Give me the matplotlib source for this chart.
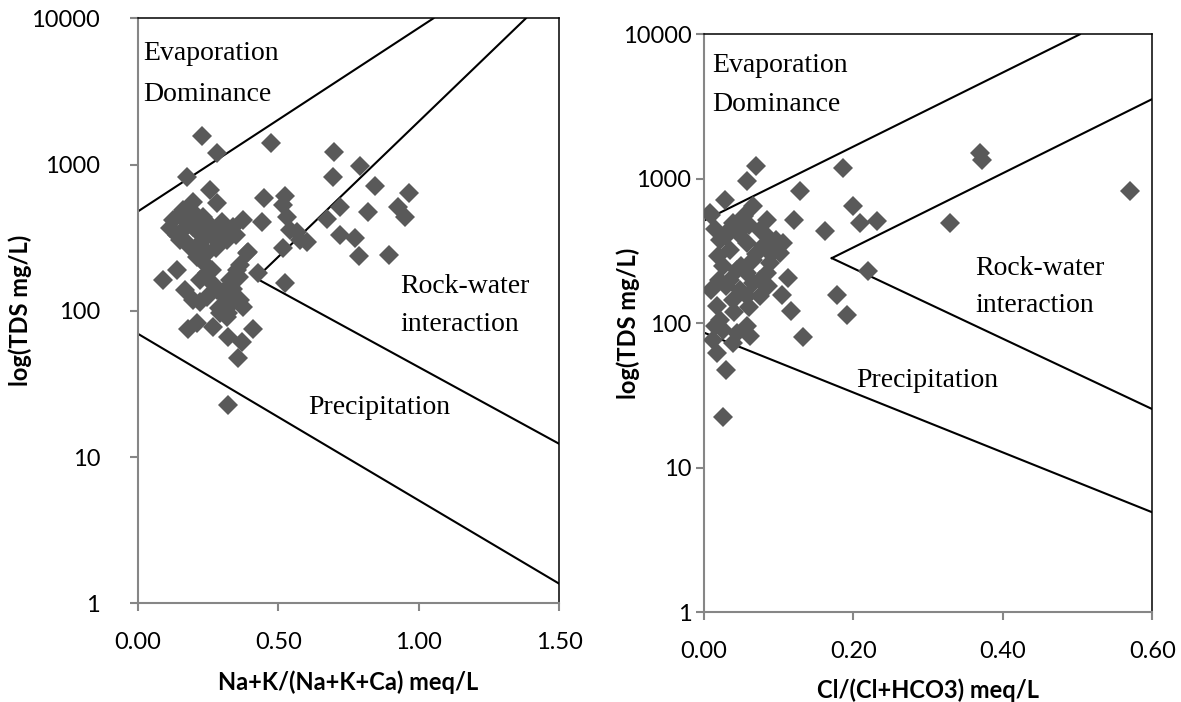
import matplotlib
matplotlib.use("Agg")
import matplotlib.pyplot as plt
from matplotlib.ticker import NullLocator

# Gibbs diagram data
# left panel: Na+K/(Na+K+Ca) vs TDS
left_x = [0.230, 0.283, 0.174, 0.473, 0.700, 0.791, 0.696, 0.844, 0.966, 0.449,
          0.524, 0.720, 0.820, 0.927, 0.951, 0.672, 0.720, 0.773, 0.788, 0.895,
          0.601, 0.566, 0.518, 0.524, 0.429, 0.441, 0.394, 0.364, 0.322, 0.358,
          0.411, 0.370, 0.322, 0.180, 0.212, 0.267, 0.293, 0.322, 0.364, 0.336,
          0.222, 0.246, 0.281, 0.328, 0.322, 0.091, 0.139, 0.168, 0.222, 0.263,
          0.257, 0.283, 0.198, 0.162, 0.127, 0.115, 0.150, 0.186, 0.210, 0.246,
          0.281, 0.317, 0.263, 0.299, 0.340, 0.376, 0.233, 0.198, 0.162, 0.233,
          0.518, 0.530, 0.542, 0.577, 0.186, 0.246, 0.352, 0.388, 0.376, 0.317,
          0.198, 0.328, 0.150, 0.180, 0.210, 0.140, 0.170, 0.200, 0.230, 0.260,
          0.300, 0.350, 0.220, 0.280, 0.240, 0.270, 0.300, 0.340, 0.360, 0.290]
left_tds = [1567, 1194, 818, 1397, 1224, 982, 818, 717, 642, 588,
            612, 510, 471, 510, 436, 425, 330, 313, 237, 241,
            297, 347, 267, 154, 180, 406, 254, 206, 22.7, 47.3,
            74.7, 61.5, 66.5, 74.7, 82.8, 77.8, 96.1, 96.1, 118.5, 113,
            115, 125, 139, 162, 139, 162, 190, 139, 162, 190,
            670, 543, 557, 489, 418, 366, 305, 274, 234, 247,
            339, 305, 376, 406, 376, 418, 440, 376, 356, 305,
            529, 440, 356, 305, 489, 180, 190, 247, 107, 91,
            119, 150, 450, 400, 350, 330, 300, 470, 390, 330,
            350, 330, 280, 270, 210, 150, 130, 140, 170, 105]

# right panel: Cl/(Cl+HCO3) vs TDS
right_x = [0.070, 0.057, 0.186, 0.369, 0.372, 0.129, 0.028, 0.010, 0.066, 0.120,
           0.162, 0.199, 0.209, 0.231, 0.329, 0.220, 0.112, 0.104, 0.116, 0.178,
           0.192, 0.132, 0.030, 0.026, 0.075, 0.570, 0.021, 0.039, 0.053, 0.075,
           0.019, 0.035, 0.057, 0.079, 0.106, 0.102, 0.026, 0.044, 0.066, 0.088,
           0.057, 0.084, 0.010, 0.030, 0.048, 0.066, 0.017, 0.039, 0.057, 0.021,
           0.057, 0.044, 0.026, 0.012, 0.017, 0.039, 0.062, 0.008, 0.030, 0.084,
           0.097, 0.015, 0.030, 0.045, 0.060, 0.080, 0.090, 0.020, 0.035, 0.050,
           0.070, 0.040, 0.060, 0.015, 0.075, 0.085]
right_tds = [1235, 961, 1191, 1512, 1359, 819, 717, 565, 645, 516,
             432, 645, 494, 507, 494, 231, 205, 157, 121, 157,
             114, 80, 47.5, 22.3, 153, 828, 379, 494, 550, 444,
             290, 323, 359, 340, 359, 306, 247, 234, 275, 261,
             223, 223, 171, 180, 171, 190, 131, 145, 153, 106,
             95, 85, 90, 77, 62, 73, 81, 580, 421, 521,
             379, 450, 400, 420, 480, 420, 300, 200, 200, 250,
             300, 120, 130, 95, 200, 180]

# boundary lines (x pairs, TDS pairs)
left_evap_x, left_evap_y = [0.0, 1.052], [477, 10000]
left_rock_up_x, left_rock_up_y = [0.421, 1.381], [167, 10000]
left_rock_lo_x, left_rock_lo_y = [0.421, 1.5], [167, 12.3]
left_prec_x, left_prec_y = [0.0, 1.5], [69.8, 1.36]

right_evap_x, right_evap_y = [0.0, 0.503], [513, 10000]
right_rock_up_x, right_rock_up_y = [0.171, 0.6], [282, 3565]
right_rock_lo_x, right_rock_lo_y = [0.171, 0.6], [282, 25.4]
right_prec_x, right_prec_y = [0.0, 0.6], [86, 4.9]

yticks = [1, 10, 100, 1000, 10000]
ytick_labels = ["1", "10", "100", "1000", "10000"]
left_xticks = [0.0, 0.5, 1.0, 1.5]
left_xtick_labels = ["0.00", "0.50", "1.00", "1.50"]
right_xticks = [0.0, 0.2, 0.4, 0.6]
right_xtick_labels = ["0.00", "0.20", "0.40", "0.60"]

marker_color = "#595959"
axis_gray = "#868686"
tick_font = "Lato"
serif = "Liberation Serif"

fig = plt.figure(figsize=(11.81, 7.02), dpi=100)
ax1 = fig.add_axes([0.1166, 0.1406, 0.3570, 0.8333])
ax2 = fig.add_axes([0.5961, 0.1282, 0.3796, 0.8229])


def style_axes(ax, xmax, xticks, xlabels, xlabel, ylab_x, ypad):
    ax.set_yscale("log")
    ax.set_ylim(1, 10000)
    ax.set_xlim(0, xmax)
    ax.set_yticks(yticks)
    ax.set_yticklabels(ytick_labels)
    ax.yaxis.set_minor_locator(NullLocator())
    ax.set_xticks(xticks)
    ax.set_xticklabels(xlabels)
    for lab in ax.get_xticklabels() + ax.get_yticklabels():
        lab.set_fontfamily(tick_font)
        lab.set_fontsize(17)
    ax.tick_params(axis="y", direction="out", length=6, width=1.5,
                   color=axis_gray, pad=ypad)
    ax.tick_params(axis="x", direction="out", length=6, width=1.5,
                   color=axis_gray, pad=15)
    for side in ["left", "bottom"]:
        ax.spines[side].set_color(axis_gray)
        ax.spines[side].set_linewidth(1.5)
    for side in ["top", "right"]:
        ax.spines[side].set_color("black")
        ax.spines[side].set_linewidth(1.1)
    ax.set_xlabel(xlabel, fontfamily=tick_font, fontweight="bold", fontsize=17)
    ax.xaxis.set_label_coords(0.5, -0.135)
    ax.xaxis.label.set_va("center")
    ax.set_ylabel("log(TDS mg/L)", fontfamily=tick_font, fontweight="bold",
                  fontsize=17)
    ax.yaxis.set_label_coords(ylab_x, 0.5)
    ax.yaxis.label.set_va("center")


# left panel
ax1.plot(left_x, left_tds, linestyle="none", marker="D", markersize=10.5,
         color=marker_color, markeredgewidth=0, zorder=3)
for xs, ys in [(left_evap_x, left_evap_y), (left_rock_up_x, left_rock_up_y),
               (left_rock_lo_x, left_rock_lo_y), (left_prec_x, left_prec_y)]:
    ax1.plot(xs, ys, color="black", linewidth=1.5, zorder=2)
style_axes(ax1, 1.5, left_xticks, left_xtick_labels,
           "Na+K/(Na+K+Ca) meq/L", -0.279, 21)
tkw = dict(fontfamily=serif, fontsize=20, ha="left", va="baseline")
ax1.text(0.019, 5190, "Evaporation", **tkw)
ax1.text(0.019, 2716, "Dominance", **tkw)
ax1.text(0.933, 133, "Rock-water", **tkw)
ax1.text(0.933, 72.8, "interaction", **tkw)
ax1.text(0.607, 19.7, "Precipitation", **tkw)

# right panel
ax2.plot(right_x, right_tds, linestyle="none", marker="D", markersize=10.5,
         color=marker_color, markeredgewidth=0, zorder=3)
for xs, ys in [(right_evap_x, right_evap_y), (right_rock_up_x, right_rock_up_y),
               (right_rock_lo_x, right_rock_lo_y), (right_prec_x, right_prec_y)]:
    ax2.plot(xs, ys, color="black", linewidth=1.5, zorder=2)
style_axes(ax2, 0.6, right_xticks, right_xtick_labels,
           "Cl/(Cl+HCO3) meq/L", -0.170, 3)
ax2.text(0.0107, 5445, "Evaporation", **tkw)
ax2.text(0.0107, 2924, "Dominance", **tkw)
ax2.text(0.3627, 217, "Rock-water", **tkw)
ax2.text(0.3627, 119, "interaction", **tkw)
ax2.text(0.2034, 36.4, "Precipitation", **tkw)

fig.savefig("out.png", dpi=100)
